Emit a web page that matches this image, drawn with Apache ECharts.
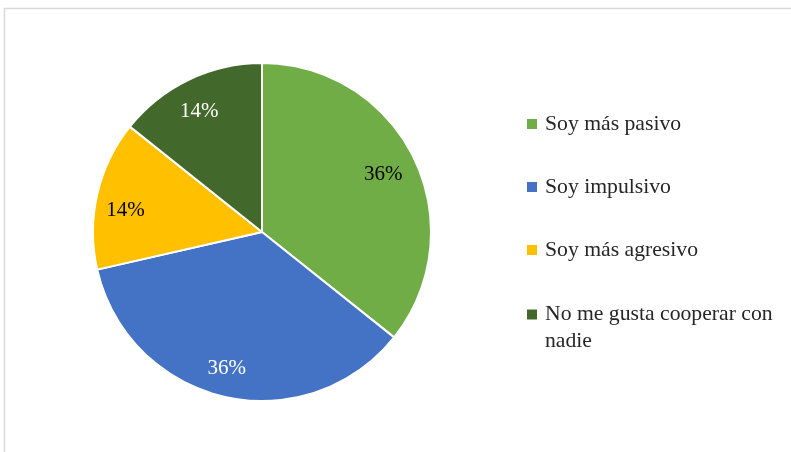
<!DOCTYPE html>
<html>
<head>
<meta charset="utf-8">
<script src="https://cdn.jsdelivr.net/npm/echarts@6/dist/echarts.min.js"></script>
<style>
html,body{margin:0;padding:0;background:#fff;}
#chart{width:791px;height:452px;}
</style>
</head>
<body>
<div id="chart"></div>
<script>
const categories = ['Soy más pasivo', 'Soy impulsivo', 'Soy más agresivo', 'No me gusta cooperar con nadie'];
const counts = [5, 5, 2, 2];
const colors = ['#70AD47', '#4472C4', '#FFC000', '#43682B'];
const labelColors = ['#000000', '#ffffff', '#000000', '#ffffff'];

const chart = echarts.init(document.getElementById('chart'));
const FONT = '"Liberation Serif", "Times New Roman", serif';

// small label nudges to mimic the original's best-fit label placement
const labelNudge = [[-5, 3], [-4, 0], [0, 10], [-2, 6]];

const mainData = categories.map((c, i) => ({ name: c, value: counts[i], itemStyle: { color: colors[i] } }));
const labelData = categories.map((c, i) => ({
  name: c, value: counts[i],
  label: { color: labelColors[i], offset: labelNudge[i] }
}));

const option = {
  animation: false,
  backgroundColor: '#ffffff',
  graphic: [{
    type: 'rect', silent: true, z: -10,
    shape: { x: 4.5, y: 8.5, width: 900, height: 600 },
    style: { fill: 'none', stroke: '#d9d9d9', lineWidth: 1.5 }
  }],
  legend: {
    orient: 'vertical',
    left: 527,
    top: 85,
    padding: 0,
    itemWidth: 10,
    itemHeight: 10,
    itemGap: -15,
    icon: 'rect',
    selectedMode: false,
    itemStyle: { borderWidth: 0 },
    textStyle: {
      fontFamily: FONT, fontSize: 21.7, lineHeight: 78, color: '#262626',
      width: 245, overflow: 'break', padding: [0, 0, 0, 3]
    },
    formatter: name => name === categories[3] ? '\n' + name : name,
    data: categories.map((c, i) => i === 3
      ? { name: c, textStyle: { lineHeight: 27 } }
      : { name: c })
  },
  series: [
    {
      type: 'pie',
      center: [262, 232],
      radius: [0, 169],
      startAngle: 90,
      clockwise: true,
      silent: true,
      itemStyle: { borderColor: '#ffffff', borderWidth: 2 },
      label: { show: false },
      labelLine: { show: false },
      data: mainData
    },
    {
      type: 'pie',
      center: [262, 232],
      radius: [105, 169],
      startAngle: 90,
      clockwise: true,
      silent: true,
      legendHoverLink: false,
      itemStyle: { color: 'rgba(0,0,0,0)', borderWidth: 0 },
      label: {
        show: true, position: 'inside',
        fontFamily: FONT, fontSize: 21,
        formatter: p => Math.round(p.percent) + '%'
      },
      labelLine: { show: false },
      data: labelData
    }
  ]
};
chart.setOption(option);
</script>
</body>
</html>
